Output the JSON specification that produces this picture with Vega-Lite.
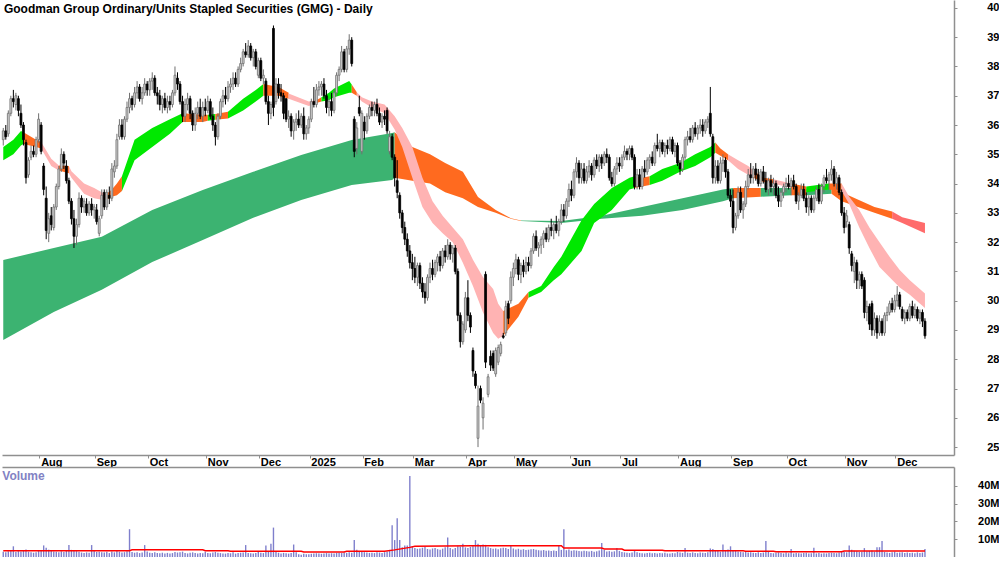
{
"$schema":"https://vega.github.io/schema/vega-lite/v6.json",
"padding":0,
"background":"#ffffff",
"spacing":0,
"config":{"view":{"stroke":null},"font":"Liberation Sans",
"axis":{"grid":false,"title":null,"labelFont":"Liberation Sans","labelFontWeight":"bold","labelFontSize":11,"labelColor":"#000000","domainColor":"#8f8f8f","tickColor":"#8f8f8f","domainWidth":1.5,"tickSize":3,"labelOverlap":false}},
"datasets":{
"px":[
{"d":"2024-07-11","o":35.5,"h":35.9,"l":35.3,"c":35.8,"v":3.0},
{"d":"2024-07-12","o":35.8,"h":36.0,"l":35.5,"c":35.6,"v":2.6},
{"d":"2024-07-15","o":35.7,"h":36.5,"l":35.6,"c":36.4,"v":3.2},
{"d":"2024-07-16","o":36.4,"h":37.0,"l":36.3,"c":36.9,"v":3.5},
{"d":"2024-07-17","o":36.9,"h":37.2,"l":36.6,"c":36.8,"v":6.0},
{"d":"2024-07-18","o":36.7,"h":37.1,"l":36.5,"c":37.0,"v":2.8},
{"d":"2024-07-19","o":36.9,"h":37.0,"l":36.3,"c":36.5,"v":3.3},
{"d":"2024-07-22","o":36.4,"h":36.7,"l":35.9,"c":36.0,"v":3.1},
{"d":"2024-07-23","o":36.0,"h":36.1,"l":35.3,"c":35.5,"v":3.4},
{"d":"2024-07-24","o":35.4,"h":35.5,"l":34.0,"c":34.2,"v":4.2},
{"d":"2024-07-25","o":34.3,"h":34.9,"l":34.2,"c":34.8,"v":3.0},
{"d":"2024-07-26","o":34.9,"h":35.3,"l":34.8,"c":35.1,"v":2.6},
{"d":"2024-07-29","o":35.1,"h":35.3,"l":34.9,"c":35.0,"v":2.4},
{"d":"2024-07-30","o":35.0,"h":35.6,"l":34.9,"c":35.5,"v":2.7},
{"d":"2024-07-31","o":35.5,"h":36.4,"l":35.4,"c":36.2,"v":3.8},
{"d":"2024-08-01","o":36.0,"h":36.1,"l":35.0,"c":35.1,"v":3.5},
{"d":"2024-08-02","o":34.6,"h":34.7,"l":33.6,"c":33.8,"v":6.5},
{"d":"2024-08-05","o":33.5,"h":33.9,"l":32.1,"c":32.4,"v":5.2},
{"d":"2024-08-06","o":32.3,"h":33.0,"l":32.0,"c":32.8,"v":4.0},
{"d":"2024-08-07","o":32.9,"h":33.2,"l":32.4,"c":32.6,"v":3.4},
{"d":"2024-08-08","o":32.5,"h":33.3,"l":32.4,"c":33.2,"v":3.1},
{"d":"2024-08-09","o":33.2,"h":34.0,"l":33.1,"c":33.9,"v":2.9},
{"d":"2024-08-12","o":33.9,"h":34.6,"l":33.8,"c":34.5,"v":2.7},
{"d":"2024-08-13","o":34.5,"h":35.2,"l":34.4,"c":35.0,"v":3.2},
{"d":"2024-08-14","o":35.0,"h":35.1,"l":34.5,"c":34.7,"v":2.8},
{"d":"2024-08-15","o":34.6,"h":34.8,"l":34.0,"c":34.1,"v":3.6},
{"d":"2024-08-16","o":34.1,"h":34.2,"l":33.3,"c":33.4,"v":6.7},
{"d":"2024-08-19","o":33.4,"h":33.5,"l":32.6,"c":32.8,"v":4.0},
{"d":"2024-08-20","o":32.8,"h":33.1,"l":31.8,"c":32.2,"v":3.8},
{"d":"2024-08-21","o":32.2,"h":32.8,"l":31.9,"c":32.6,"v":3.3},
{"d":"2024-08-22","o":32.6,"h":33.7,"l":32.5,"c":33.5,"v":3.0},
{"d":"2024-08-23","o":33.5,"h":33.6,"l":33.0,"c":33.2,"v":2.5},
{"d":"2024-08-26","o":33.2,"h":33.5,"l":33.0,"c":33.4,"v":2.3},
{"d":"2024-08-27","o":33.3,"h":33.5,"l":32.9,"c":33.0,"v":2.6},
{"d":"2024-08-28","o":33.0,"h":33.4,"l":32.9,"c":33.3,"v":2.4},
{"d":"2024-08-29","o":33.3,"h":33.5,"l":32.9,"c":33.1,"v":6.7},
{"d":"2024-08-30","o":33.1,"h":33.3,"l":32.8,"c":33.2,"v":3.5},
{"d":"2024-09-02","o":33.1,"h":33.3,"l":32.6,"c":32.7,"v":2.8},
{"d":"2024-09-03","o":32.3,"h":32.9,"l":32.2,"c":32.8,"v":3.0},
{"d":"2024-09-04","o":32.9,"h":33.8,"l":32.8,"c":33.6,"v":2.7},
{"d":"2024-09-05","o":33.7,"h":33.8,"l":33.1,"c":33.2,"v":2.5},
{"d":"2024-09-06","o":33.2,"h":33.8,"l":33.1,"c":33.7,"v":2.9},
{"d":"2024-09-09","o":33.6,"h":33.9,"l":33.3,"c":33.5,"v":2.2},
{"d":"2024-09-10","o":33.5,"h":34.7,"l":33.4,"c":34.5,"v":3.1},
{"d":"2024-09-11","o":34.4,"h":34.8,"l":34.2,"c":34.6,"v":2.6},
{"d":"2024-09-12","o":34.6,"h":35.7,"l":34.5,"c":35.5,"v":3.4},
{"d":"2024-09-13","o":35.6,"h":36.2,"l":35.5,"c":36.0,"v":3.0},
{"d":"2024-09-16","o":36.0,"h":36.2,"l":35.5,"c":35.6,"v":2.5},
{"d":"2024-09-17","o":35.6,"h":36.3,"l":35.5,"c":36.2,"v":2.7},
{"d":"2024-09-18","o":36.2,"h":36.8,"l":36.1,"c":36.6,"v":3.2},
{"d":"2024-09-19","o":36.6,"h":37.1,"l":36.4,"c":36.9,"v":15.6},
{"d":"2024-09-20","o":36.9,"h":37.0,"l":36.5,"c":36.7,"v":2.8},
{"d":"2024-09-23","o":36.7,"h":37.3,"l":36.6,"c":37.1,"v":2.4},
{"d":"2024-09-24","o":37.1,"h":37.5,"l":36.9,"c":37.3,"v":2.6},
{"d":"2024-09-25","o":37.3,"h":37.4,"l":36.8,"c":36.9,"v":2.2},
{"d":"2024-09-26","o":36.9,"h":37.3,"l":36.7,"c":37.1,"v":2.5},
{"d":"2024-09-27","o":37.1,"h":37.6,"l":37.0,"c":37.4,"v":6.7},
{"d":"2024-09-30","o":37.4,"h":37.5,"l":37.0,"c":37.2,"v":3.1},
{"d":"2024-10-01","o":37.2,"h":37.6,"l":37.0,"c":37.5,"v":2.4},
{"d":"2024-10-02","o":37.5,"h":37.8,"l":37.2,"c":37.6,"v":2.2},
{"d":"2024-10-03","o":37.6,"h":37.7,"l":37.0,"c":37.1,"v":2.6},
{"d":"2024-10-04","o":37.1,"h":37.3,"l":36.7,"c":37.0,"v":2.3},
{"d":"2024-10-07","o":37.0,"h":37.2,"l":36.5,"c":36.7,"v":2.1},
{"d":"2024-10-08","o":36.7,"h":37.0,"l":36.4,"c":36.9,"v":2.4},
{"d":"2024-10-09","o":36.9,"h":37.1,"l":36.5,"c":36.6,"v":2.0},
{"d":"2024-10-10","o":36.6,"h":37.0,"l":36.4,"c":36.8,"v":2.3},
{"d":"2024-10-11","o":36.8,"h":37.0,"l":36.5,"c":36.7,"v":1.9},
{"d":"2024-10-14","o":36.7,"h":37.2,"l":36.6,"c":37.1,"v":2.2},
{"d":"2024-10-15","o":37.1,"h":38.0,"l":37.0,"c":37.7,"v":2.8},
{"d":"2024-10-16","o":37.6,"h":37.8,"l":37.2,"c":37.4,"v":2.5},
{"d":"2024-10-17","o":37.4,"h":37.5,"l":36.7,"c":36.8,"v":2.7},
{"d":"2024-10-18","o":36.8,"h":37.0,"l":36.1,"c":36.3,"v":3.0},
{"d":"2024-10-21","o":36.3,"h":36.9,"l":36.1,"c":36.7,"v":2.3},
{"d":"2024-10-22","o":36.7,"h":37.1,"l":36.5,"c":36.9,"v":2.0},
{"d":"2024-10-23","o":36.9,"h":37.0,"l":36.2,"c":36.4,"v":2.4},
{"d":"2024-10-24","o":36.4,"h":36.5,"l":35.8,"c":36.0,"v":2.6},
{"d":"2024-10-25","o":36.0,"h":36.6,"l":35.8,"c":36.4,"v":2.2},
{"d":"2024-10-28","o":36.4,"h":36.8,"l":36.2,"c":36.6,"v":2.0},
{"d":"2024-10-29","o":36.6,"h":36.9,"l":36.2,"c":36.3,"v":2.3},
{"d":"2024-10-30","o":36.3,"h":36.8,"l":36.1,"c":36.6,"v":2.1},
{"d":"2024-10-31","o":36.6,"h":36.9,"l":36.3,"c":36.5,"v":2.9},
{"d":"2024-11-01","o":36.5,"h":37.0,"l":36.4,"c":36.8,"v":2.3},
{"d":"2024-11-04","o":36.8,"h":36.9,"l":36.2,"c":36.3,"v":2.1},
{"d":"2024-11-05","o":36.3,"h":36.6,"l":35.8,"c":36.0,"v":2.5},
{"d":"2024-11-06","o":36.0,"h":36.1,"l":35.3,"c":35.6,"v":2.8},
{"d":"2024-11-07","o":35.6,"h":36.4,"l":35.5,"c":36.3,"v":2.4},
{"d":"2024-11-08","o":36.3,"h":36.9,"l":36.2,"c":36.8,"v":2.2},
{"d":"2024-11-11","o":36.8,"h":37.2,"l":36.6,"c":37.0,"v":2.0},
{"d":"2024-11-12","o":37.0,"h":37.3,"l":36.7,"c":36.9,"v":1.9},
{"d":"2024-11-13","o":36.9,"h":37.5,"l":36.8,"c":37.3,"v":2.3},
{"d":"2024-11-14","o":37.3,"h":37.6,"l":37.1,"c":37.4,"v":2.1},
{"d":"2024-11-15","o":37.4,"h":37.8,"l":37.2,"c":37.6,"v":2.6},
{"d":"2024-11-18","o":37.6,"h":37.8,"l":37.3,"c":37.4,"v":1.9},
{"d":"2024-11-19","o":37.4,"h":38.0,"l":37.3,"c":37.9,"v":2.2},
{"d":"2024-11-20","o":37.9,"h":38.3,"l":37.8,"c":38.1,"v":2.4},
{"d":"2024-11-21","o":38.1,"h":38.6,"l":38.0,"c":38.5,"v":2.5},
{"d":"2024-11-22","o":38.5,"h":38.8,"l":38.3,"c":38.4,"v":6.7},
{"d":"2024-11-25","o":38.4,"h":38.9,"l":38.3,"c":38.7,"v":2.3},
{"d":"2024-11-26","o":38.7,"h":38.8,"l":38.2,"c":38.3,"v":2.1},
{"d":"2024-11-27","o":38.3,"h":38.6,"l":38.0,"c":38.5,"v":2.0},
{"d":"2024-11-28","o":38.5,"h":38.6,"l":37.9,"c":38.0,"v":2.2},
{"d":"2024-11-29","o":37.7,"h":38.3,"l":37.6,"c":38.2,"v":3.0},
{"d":"2024-12-02","o":38.2,"h":38.3,"l":37.5,"c":37.6,"v":2.4},
{"d":"2024-12-03","o":37.6,"h":37.9,"l":37.4,"c":37.7,"v":2.2},
{"d":"2024-12-04","o":37.5,"h":37.6,"l":36.7,"c":36.8,"v":6.5},
{"d":"2024-12-05","o":36.8,"h":37.0,"l":36.0,"c":36.4,"v":2.9},
{"d":"2024-12-06","o":36.4,"h":36.8,"l":36.2,"c":36.7,"v":7.5},
{"d":"2024-12-09","o":39.3,"h":39.4,"l":36.3,"c":36.6,"v":16.5},
{"d":"2024-12-10","o":36.8,"h":37.6,"l":36.7,"c":37.4,"v":3.0},
{"d":"2024-12-11","o":37.4,"h":37.6,"l":36.9,"c":37.1,"v":2.4},
{"d":"2024-12-12","o":37.1,"h":37.4,"l":36.8,"c":37.0,"v":2.0},
{"d":"2024-12-13","o":37.0,"h":37.1,"l":36.2,"c":36.4,"v":2.3},
{"d":"2024-12-16","o":36.9,"h":36.9,"l":36.1,"c":36.2,"v":2.1},
{"d":"2024-12-17","o":36.2,"h":36.5,"l":35.9,"c":36.3,"v":1.9},
{"d":"2024-12-18","o":36.3,"h":36.4,"l":35.6,"c":35.8,"v":2.2},
{"d":"2024-12-19","o":35.8,"h":36.2,"l":35.5,"c":36.1,"v":7.0},
{"d":"2024-12-20","o":36.1,"h":36.4,"l":35.8,"c":36.2,"v":2.6},
{"d":"2024-12-23","o":36.2,"h":36.5,"l":35.9,"c":36.0,"v":1.6},
{"d":"2024-12-24","o":36.0,"h":36.4,"l":35.9,"c":36.3,"v":1.2},
{"d":"2024-12-27","o":36.3,"h":36.6,"l":35.5,"c":35.7,"v":1.8},
{"d":"2024-12-30","o":35.7,"h":36.0,"l":35.5,"c":35.9,"v":1.6},
{"d":"2024-12-31","o":35.9,"h":36.3,"l":35.7,"c":36.2,"v":1.5},
{"d":"2025-01-02","o":36.2,"h":36.9,"l":36.1,"c":36.8,"v":1.8},
{"d":"2025-01-03","o":36.8,"h":37.3,"l":36.6,"c":36.7,"v":1.9},
{"d":"2025-01-06","o":36.7,"h":37.4,"l":36.6,"c":37.2,"v":2.1},
{"d":"2025-01-07","o":37.2,"h":37.5,"l":37.0,"c":37.3,"v":2.0},
{"d":"2025-01-08","o":37.3,"h":37.5,"l":37.0,"c":37.4,"v":1.8},
{"d":"2025-01-09","o":37.4,"h":37.6,"l":36.9,"c":37.0,"v":1.9},
{"d":"2025-01-10","o":37.0,"h":37.2,"l":36.4,"c":36.6,"v":2.2},
{"d":"2025-01-13","o":36.6,"h":36.9,"l":36.3,"c":36.8,"v":2.0},
{"d":"2025-01-14","o":36.8,"h":37.1,"l":36.3,"c":36.5,"v":2.1},
{"d":"2025-01-15","o":36.5,"h":37.2,"l":36.4,"c":37.1,"v":1.9},
{"d":"2025-01-16","o":37.1,"h":37.8,"l":37.0,"c":37.7,"v":2.3},
{"d":"2025-01-17","o":37.7,"h":38.0,"l":37.5,"c":37.9,"v":2.4},
{"d":"2025-01-20","o":37.9,"h":38.7,"l":37.8,"c":38.5,"v":2.2},
{"d":"2025-01-21","o":38.5,"h":38.6,"l":37.8,"c":37.9,"v":2.5},
{"d":"2025-01-22","o":37.9,"h":38.7,"l":37.8,"c":38.6,"v":2.3},
{"d":"2025-01-23","o":38.6,"h":39.1,"l":38.4,"c":38.9,"v":2.6},
{"d":"2025-01-24","o":38.9,"h":39.0,"l":38.0,"c":38.1,"v":2.4},
{"d":"2025-01-28","o":36.2,"h":36.3,"l":34.9,"c":35.1,"v":9.5},
{"d":"2025-01-29","o":35.2,"h":36.1,"l":35.0,"c":35.9,"v":4.0},
{"d":"2025-01-30","o":36.6,"h":37.0,"l":36.3,"c":36.4,"v":3.0},
{"d":"2025-01-31","o":35.1,"h":36.5,"l":35.0,"c":36.4,"v":2.8},
{"d":"2025-02-03","o":36.1,"h":36.3,"l":35.5,"c":35.8,"v":2.7},
{"d":"2025-02-04","o":35.8,"h":36.4,"l":35.7,"c":36.3,"v":2.5},
{"d":"2025-02-05","o":36.3,"h":36.7,"l":36.2,"c":36.6,"v":2.3},
{"d":"2025-02-06","o":36.6,"h":36.8,"l":36.3,"c":36.5,"v":2.4},
{"d":"2025-02-07","o":36.5,"h":36.8,"l":36.3,"c":36.7,"v":2.2},
{"d":"2025-02-10","o":36.7,"h":36.9,"l":36.3,"c":36.4,"v":2.6},
{"d":"2025-02-11","o":36.4,"h":36.6,"l":36.0,"c":36.1,"v":2.5},
{"d":"2025-02-12","o":36.1,"h":36.4,"l":35.9,"c":36.3,"v":2.3},
{"d":"2025-02-13","o":36.3,"h":36.5,"l":36.0,"c":36.2,"v":2.7},
{"d":"2025-02-14","o":36.5,"h":36.6,"l":35.7,"c":35.8,"v":3.1},
{"d":"2025-02-17","o":35.1,"h":35.8,"l":35.0,"c":35.6,"v":4.0},
{"d":"2025-02-18","o":35.6,"h":35.7,"l":34.8,"c":34.9,"v":17.8},
{"d":"2025-02-19","o":34.9,"h":35.0,"l":33.9,"c":34.2,"v":9.5},
{"d":"2025-02-20","o":34.1,"h":34.8,"l":33.5,"c":33.7,"v":21.7},
{"d":"2025-02-21","o":33.6,"h":33.7,"l":32.8,"c":33.0,"v":9.5},
{"d":"2025-02-24","o":33.0,"h":33.1,"l":32.3,"c":32.5,"v":5.5},
{"d":"2025-02-25","o":32.5,"h":32.7,"l":31.9,"c":32.1,"v":6.5},
{"d":"2025-02-26","o":32.1,"h":32.3,"l":31.5,"c":31.7,"v":6.5},
{"d":"2025-02-27","o":31.7,"h":31.9,"l":31.1,"c":31.3,"v":45.5},
{"d":"2025-02-28","o":31.3,"h":31.6,"l":30.7,"c":31.1,"v":6.0},
{"d":"2025-03-03","o":31.1,"h":31.5,"l":30.6,"c":30.8,"v":5.0},
{"d":"2025-03-04","o":30.8,"h":31.3,"l":30.5,"c":31.2,"v":4.6},
{"d":"2025-03-05","o":31.2,"h":31.3,"l":30.4,"c":30.6,"v":4.8},
{"d":"2025-03-06","o":30.6,"h":30.8,"l":30.1,"c":30.3,"v":5.2},
{"d":"2025-03-07","o":30.3,"h":30.6,"l":29.9,"c":30.1,"v":5.6},
{"d":"2025-03-10","o":30.1,"h":30.9,"l":30.0,"c":30.8,"v":4.5},
{"d":"2025-03-11","o":30.8,"h":31.3,"l":30.6,"c":31.1,"v":4.2},
{"d":"2025-03-12","o":31.1,"h":31.4,"l":30.7,"c":30.9,"v":4.8},
{"d":"2025-03-13","o":30.9,"h":31.4,"l":30.8,"c":31.3,"v":5.0},
{"d":"2025-03-14","o":31.3,"h":31.6,"l":31.0,"c":31.5,"v":4.4},
{"d":"2025-03-17","o":31.5,"h":31.7,"l":31.0,"c":31.2,"v":4.1},
{"d":"2025-03-18","o":31.2,"h":31.8,"l":31.1,"c":31.7,"v":4.7},
{"d":"2025-03-19","o":31.7,"h":31.9,"l":31.3,"c":31.5,"v":5.5},
{"d":"2025-03-20","o":31.5,"h":32.1,"l":31.4,"c":31.9,"v":11.0},
{"d":"2025-03-21","o":31.9,"h":32.0,"l":31.4,"c":31.6,"v":5.0},
{"d":"2025-03-24","o":31.6,"h":31.9,"l":31.3,"c":31.8,"v":4.3},
{"d":"2025-03-25","o":31.8,"h":31.9,"l":30.9,"c":31.0,"v":5.1},
{"d":"2025-03-26","o":31.0,"h":31.1,"l":29.3,"c":29.5,"v":6.0},
{"d":"2025-03-27","o":29.5,"h":29.6,"l":28.4,"c":28.6,"v":5.8},
{"d":"2025-03-28","o":28.6,"h":29.3,"l":28.5,"c":29.2,"v":7.5},
{"d":"2025-03-31","o":29.0,"h":30.3,"l":28.9,"c":30.1,"v":5.4},
{"d":"2025-04-01","o":30.1,"h":30.7,"l":29.3,"c":29.5,"v":5.0},
{"d":"2025-04-02","o":29.5,"h":29.6,"l":28.9,"c":29.1,"v":5.6},
{"d":"2025-04-03","o":28.3,"h":28.4,"l":27.4,"c":27.6,"v":6.5},
{"d":"2025-04-04","o":27.5,"h":27.6,"l":27.0,"c":27.1,"v":9.5},
{"d":"2025-04-07","o":25.3,"h":27.1,"l":25.0,"c":26.4,"v":7.5},
{"d":"2025-04-08","o":27.0,"h":27.1,"l":26.5,"c":26.6,"v":6.3},
{"d":"2025-04-09","o":26.0,"h":26.7,"l":25.6,"c":26.5,"v":7.0},
{"d":"2025-04-10","o":30.9,"h":31.0,"l":27.7,"c":27.9,"v":6.8},
{"d":"2025-04-11","o":26.8,"h":27.5,"l":26.7,"c":27.4,"v":5.5},
{"d":"2025-04-14","o":28.1,"h":28.3,"l":27.6,"c":27.8,"v":5.0},
{"d":"2025-04-15","o":28.2,"h":28.3,"l":27.6,"c":27.7,"v":4.6},
{"d":"2025-04-16","o":27.5,"h":28.4,"l":27.4,"c":28.3,"v":4.8},
{"d":"2025-04-17","o":27.9,"h":28.5,"l":27.8,"c":28.4,"v":4.4},
{"d":"2025-04-22","o":28.2,"h":28.6,"l":28.1,"c":28.5,"v":4.9},
{"d":"2025-04-23","o":28.8,"h":28.9,"l":28.7,"c":28.75,"v":5.2},
{"d":"2025-04-24","o":28.9,"h":30.0,"l":28.8,"c":29.8,"v":5.0},
{"d":"2025-04-28","o":29.9,"h":30.0,"l":29.2,"c":29.4,"v":4.5},
{"d":"2025-04-29","o":30.0,"h":31.0,"l":29.9,"c":30.8,"v":6.5},
{"d":"2025-04-30","o":30.8,"h":31.3,"l":30.5,"c":31.1,"v":4.8},
{"d":"2025-05-01","o":31.1,"h":31.6,"l":30.9,"c":31.4,"v":4.2},
{"d":"2025-05-02","o":31.4,"h":31.5,"l":30.7,"c":30.9,"v":4.6},
{"d":"2025-05-05","o":30.9,"h":31.3,"l":30.6,"c":31.2,"v":4.0},
{"d":"2025-05-06","o":31.2,"h":31.4,"l":30.8,"c":31.0,"v":4.4},
{"d":"2025-05-07","o":31.0,"h":31.5,"l":30.9,"c":31.3,"v":3.9},
{"d":"2025-05-08","o":31.3,"h":31.5,"l":31.0,"c":31.2,"v":4.1},
{"d":"2025-05-09","o":31.2,"h":31.8,"l":31.1,"c":31.7,"v":4.3},
{"d":"2025-05-12","o":31.7,"h":32.3,"l":31.6,"c":32.2,"v":4.5},
{"d":"2025-05-13","o":32.2,"h":32.4,"l":31.7,"c":31.8,"v":4.0},
{"d":"2025-05-14","o":31.8,"h":32.0,"l":31.5,"c":31.9,"v":3.8},
{"d":"2025-05-15","o":31.9,"h":32.2,"l":31.6,"c":32.1,"v":3.6},
{"d":"2025-05-16","o":32.1,"h":32.4,"l":31.8,"c":32.3,"v":3.9},
{"d":"2025-05-19","o":32.3,"h":32.5,"l":32.0,"c":32.1,"v":3.5},
{"d":"2025-05-20","o":32.1,"h":32.6,"l":32.0,"c":32.5,"v":3.7},
{"d":"2025-05-21","o":32.5,"h":32.8,"l":32.2,"c":32.4,"v":3.4},
{"d":"2025-05-22","o":32.4,"h":32.7,"l":32.1,"c":32.6,"v":3.6},
{"d":"2025-05-23","o":32.6,"h":32.9,"l":32.3,"c":32.4,"v":3.3},
{"d":"2025-05-26","o":32.4,"h":32.8,"l":32.2,"c":32.7,"v":6.7},
{"d":"2025-05-27","o":32.7,"h":33.3,"l":32.6,"c":33.1,"v":4.0},
{"d":"2025-05-28","o":33.1,"h":33.3,"l":32.7,"c":32.9,"v":15.6},
{"d":"2025-05-29","o":32.9,"h":33.5,"l":32.8,"c":33.4,"v":3.8},
{"d":"2025-05-30","o":33.4,"h":34.0,"l":33.2,"c":33.8,"v":4.2},
{"d":"2025-06-02","o":33.8,"h":34.1,"l":33.4,"c":33.6,"v":3.5},
{"d":"2025-06-03","o":33.6,"h":34.5,"l":33.5,"c":34.4,"v":3.8},
{"d":"2025-06-04","o":34.4,"h":34.9,"l":34.2,"c":34.7,"v":3.6},
{"d":"2025-06-05","o":34.7,"h":34.8,"l":34.0,"c":34.2,"v":3.4},
{"d":"2025-06-06","o":34.2,"h":34.7,"l":34.0,"c":34.5,"v":3.2},
{"d":"2025-06-10","o":34.5,"h":34.7,"l":34.0,"c":34.1,"v":3.5},
{"d":"2025-06-11","o":34.1,"h":34.6,"l":34.0,"c":34.4,"v":3.3},
{"d":"2025-06-12","o":34.4,"h":34.8,"l":34.2,"c":34.6,"v":3.1},
{"d":"2025-06-13","o":34.6,"h":34.7,"l":34.1,"c":34.3,"v":3.4},
{"d":"2025-06-16","o":34.3,"h":34.9,"l":34.2,"c":34.8,"v":3.0},
{"d":"2025-06-17","o":34.8,"h":35.0,"l":34.5,"c":34.6,"v":3.2},
{"d":"2025-06-18","o":34.6,"h":35.0,"l":34.4,"c":34.9,"v":3.6},
{"d":"2025-06-19","o":34.9,"h":35.0,"l":34.5,"c":34.7,"v":7.8},
{"d":"2025-06-20","o":34.7,"h":35.1,"l":34.6,"c":35.0,"v":3.9},
{"d":"2025-06-23","o":35.0,"h":35.2,"l":34.7,"c":34.9,"v":3.1},
{"d":"2025-06-24","o":34.9,"h":35.0,"l":34.1,"c":34.2,"v":3.3},
{"d":"2025-06-25","o":34.2,"h":34.4,"l":33.9,"c":34.0,"v":3.0},
{"d":"2025-06-26","o":34.0,"h":34.6,"l":33.9,"c":34.5,"v":3.2},
{"d":"2025-06-27","o":34.5,"h":34.9,"l":34.3,"c":34.7,"v":5.0},
{"d":"2025-06-30","o":34.7,"h":34.9,"l":34.4,"c":34.6,"v":3.4},
{"d":"2025-07-01","o":34.6,"h":35.0,"l":34.5,"c":34.9,"v":2.8},
{"d":"2025-07-02","o":34.9,"h":35.3,"l":34.8,"c":35.1,"v":2.6},
{"d":"2025-07-03","o":35.1,"h":35.2,"l":34.8,"c":35.0,"v":2.4},
{"d":"2025-07-04","o":35.0,"h":35.3,"l":34.8,"c":35.2,"v":2.2},
{"d":"2025-07-07","o":35.2,"h":35.3,"l":34.8,"c":34.9,"v":2.5},
{"d":"2025-07-08","o":34.9,"h":35.0,"l":33.8,"c":33.9,"v":3.4},
{"d":"2025-07-09","o":33.9,"h":34.5,"l":33.8,"c":34.3,"v":2.7},
{"d":"2025-07-10","o":34.3,"h":34.5,"l":33.8,"c":33.9,"v":2.3},
{"d":"2025-07-11","o":33.9,"h":34.6,"l":33.8,"c":34.5,"v":2.1},
{"d":"2025-07-14","o":34.5,"h":34.8,"l":34.2,"c":34.4,"v":2.0},
{"d":"2025-07-15","o":34.4,"h":34.9,"l":34.3,"c":34.8,"v":2.2},
{"d":"2025-07-16","o":34.8,"h":35.0,"l":34.5,"c":34.9,"v":2.4},
{"d":"2025-07-17","o":34.9,"h":35.1,"l":34.6,"c":34.7,"v":2.1},
{"d":"2025-07-18","o":34.7,"h":35.4,"l":34.6,"c":35.3,"v":2.3},
{"d":"2025-07-21","o":35.3,"h":35.7,"l":35.1,"c":35.2,"v":2.0},
{"d":"2025-07-22","o":35.2,"h":35.5,"l":34.9,"c":35.4,"v":2.2},
{"d":"2025-07-23","o":35.4,"h":35.5,"l":35.0,"c":35.1,"v":2.1},
{"d":"2025-07-24","o":35.1,"h":35.4,"l":34.9,"c":35.3,"v":2.4},
{"d":"2025-07-25","o":35.3,"h":35.5,"l":35.0,"c":35.2,"v":2.0},
{"d":"2025-07-28","o":35.2,"h":35.6,"l":35.1,"c":35.5,"v":1.9},
{"d":"2025-07-29","o":35.5,"h":35.6,"l":35.0,"c":35.1,"v":2.2},
{"d":"2025-07-30","o":35.1,"h":35.4,"l":34.9,"c":35.3,"v":2.1},
{"d":"2025-07-31","o":35.3,"h":35.4,"l":34.6,"c":34.7,"v":2.8},
{"d":"2025-08-01","o":34.7,"h":34.8,"l":34.3,"c":34.5,"v":2.5},
{"d":"2025-08-04","o":34.5,"h":35.0,"l":34.4,"c":34.9,"v":2.3},
{"d":"2025-08-05","o":34.9,"h":35.6,"l":34.8,"c":35.5,"v":5.0},
{"d":"2025-08-06","o":35.5,"h":35.8,"l":35.3,"c":35.6,"v":2.4},
{"d":"2025-08-07","o":35.6,"h":35.9,"l":35.4,"c":35.5,"v":2.2},
{"d":"2025-08-08","o":35.5,"h":36.0,"l":35.4,"c":35.9,"v":2.6},
{"d":"2025-08-11","o":35.9,"h":36.1,"l":35.6,"c":35.7,"v":2.3},
{"d":"2025-08-12","o":35.7,"h":36.0,"l":35.5,"c":35.9,"v":2.1},
{"d":"2025-08-13","o":35.9,"h":36.2,"l":35.7,"c":36.0,"v":2.5},
{"d":"2025-08-14","o":36.0,"h":36.2,"l":35.6,"c":35.8,"v":2.4},
{"d":"2025-08-15","o":35.8,"h":36.2,"l":35.7,"c":36.1,"v":2.2},
{"d":"2025-08-18","o":36.1,"h":36.3,"l":35.9,"c":36.2,"v":2.6},
{"d":"2025-08-19","o":36.4,"h":37.3,"l":35.6,"c":35.7,"v":4.8},
{"d":"2025-08-20","o":35.6,"h":35.7,"l":34.0,"c":34.2,"v":4.5},
{"d":"2025-08-21","o":34.2,"h":34.8,"l":34.0,"c":34.6,"v":3.8},
{"d":"2025-08-22","o":34.6,"h":34.8,"l":34.0,"c":34.1,"v":3.5},
{"d":"2025-08-25","o":34.1,"h":34.9,"l":34.0,"c":34.7,"v":3.0},
{"d":"2025-08-26","o":34.7,"h":35.0,"l":34.4,"c":34.8,"v":7.0},
{"d":"2025-08-27","o":34.8,"h":34.9,"l":34.2,"c":34.4,"v":3.6},
{"d":"2025-08-28","o":34.4,"h":34.5,"l":33.5,"c":33.6,"v":4.2},
{"d":"2025-08-29","o":33.6,"h":33.8,"l":33.2,"c":33.4,"v":6.0},
{"d":"2025-09-01","o":33.4,"h":33.8,"l":32.3,"c":32.5,"v":3.8},
{"d":"2025-09-02","o":32.5,"h":33.0,"l":32.4,"c":32.9,"v":3.4},
{"d":"2025-09-03","o":32.9,"h":33.9,"l":32.8,"c":33.7,"v":3.1},
{"d":"2025-09-04","o":33.7,"h":33.9,"l":33.0,"c":33.1,"v":2.9},
{"d":"2025-09-05","o":33.1,"h":33.4,"l":32.8,"c":33.3,"v":2.6},
{"d":"2025-09-08","o":33.3,"h":34.1,"l":33.2,"c":33.9,"v":2.8},
{"d":"2025-09-09","o":33.9,"h":34.5,"l":33.8,"c":34.3,"v":2.5},
{"d":"2025-09-10","o":34.3,"h":34.7,"l":34.0,"c":34.2,"v":2.7},
{"d":"2025-09-11","o":34.2,"h":34.6,"l":34.0,"c":34.5,"v":2.4},
{"d":"2025-09-12","o":34.5,"h":34.7,"l":34.1,"c":34.3,"v":2.3},
{"d":"2025-09-15","o":34.3,"h":34.5,"l":33.9,"c":34.0,"v":2.6},
{"d":"2025-09-16","o":34.0,"h":34.5,"l":33.9,"c":34.4,"v":2.2},
{"d":"2025-09-17","o":34.4,"h":34.6,"l":34.0,"c":34.1,"v":2.5},
{"d":"2025-09-18","o":34.1,"h":34.4,"l":33.7,"c":33.8,"v":9.0},
{"d":"2025-09-19","o":33.8,"h":34.2,"l":33.6,"c":34.1,"v":2.8},
{"d":"2025-09-22","o":34.1,"h":34.3,"l":33.7,"c":33.9,"v":2.3},
{"d":"2025-09-23","o":33.9,"h":34.2,"l":33.6,"c":34.0,"v":2.1},
{"d":"2025-09-24","o":34.0,"h":34.1,"l":33.5,"c":33.6,"v":2.4},
{"d":"2025-09-25","o":33.6,"h":33.9,"l":33.2,"c":33.4,"v":2.6},
{"d":"2025-09-26","o":33.4,"h":33.8,"l":33.2,"c":33.7,"v":2.2},
{"d":"2025-09-29","o":33.7,"h":34.0,"l":33.5,"c":33.9,"v":2.0},
{"d":"2025-09-30","o":33.9,"h":34.2,"l":33.7,"c":34.0,"v":2.5},
{"d":"2025-10-01","o":34.0,"h":34.3,"l":33.8,"c":33.9,"v":2.1},
{"d":"2025-10-02","o":33.9,"h":34.2,"l":33.6,"c":34.1,"v":4.5},
{"d":"2025-10-03","o":34.1,"h":34.3,"l":33.8,"c":33.9,"v":2.0},
{"d":"2025-10-06","o":33.9,"h":34.0,"l":33.3,"c":33.4,"v":2.3},
{"d":"2025-10-07","o":33.4,"h":33.7,"l":33.1,"c":33.6,"v":2.1},
{"d":"2025-10-08","o":33.6,"h":34.0,"l":33.5,"c":33.8,"v":1.9},
{"d":"2025-10-09","o":33.8,"h":34.0,"l":33.4,"c":33.5,"v":2.2},
{"d":"2025-10-10","o":33.5,"h":33.7,"l":33.0,"c":33.2,"v":2.4},
{"d":"2025-10-13","o":33.2,"h":33.6,"l":32.9,"c":33.5,"v":2.0},
{"d":"2025-10-14","o":33.5,"h":33.6,"l":33.0,"c":33.1,"v":2.1},
{"d":"2025-10-15","o":33.1,"h":33.6,"l":33.0,"c":33.5,"v":5.2},
{"d":"2025-10-16","o":33.5,"h":33.9,"l":33.4,"c":33.8,"v":2.0},
{"d":"2025-10-17","o":33.8,"h":34.0,"l":33.3,"c":33.4,"v":2.3},
{"d":"2025-10-20","o":33.4,"h":34.0,"l":33.3,"c":33.9,"v":1.9},
{"d":"2025-10-21","o":33.9,"h":34.3,"l":33.7,"c":34.2,"v":2.1},
{"d":"2025-10-22","o":34.2,"h":34.5,"l":34.0,"c":34.1,"v":2.0},
{"d":"2025-10-23","o":34.1,"h":34.4,"l":33.8,"c":34.3,"v":2.2},
{"d":"2025-10-24","o":34.3,"h":34.8,"l":34.1,"c":34.5,"v":2.4},
{"d":"2025-10-27","o":34.5,"h":34.6,"l":33.9,"c":34.0,"v":2.3},
{"d":"2025-10-28","o":34.0,"h":34.4,"l":33.8,"c":34.2,"v":2.1},
{"d":"2025-10-29","o":34.2,"h":34.3,"l":33.6,"c":33.7,"v":2.5},
{"d":"2025-10-30","o":33.7,"h":33.8,"l":32.9,"c":33.0,"v":2.8},
{"d":"2025-10-31","o":33.0,"h":33.2,"l":32.3,"c":32.5,"v":3.0},
{"d":"2025-11-03","o":32.7,"h":33.1,"l":32.5,"c":32.9,"v":2.6},
{"d":"2025-11-04","o":32.6,"h":32.7,"l":31.6,"c":31.8,"v":6.5},
{"d":"2025-11-05","o":31.6,"h":31.7,"l":31.0,"c":31.2,"v":4.0},
{"d":"2025-11-06","o":31.0,"h":31.5,"l":30.6,"c":31.3,"v":3.5},
{"d":"2025-11-07","o":31.3,"h":31.4,"l":30.4,"c":30.7,"v":3.2},
{"d":"2025-11-10","o":30.7,"h":31.0,"l":30.4,"c":30.9,"v":2.8},
{"d":"2025-11-11","o":30.9,"h":31.0,"l":30.4,"c":30.5,"v":3.0},
{"d":"2025-11-12","o":30.7,"h":30.8,"l":29.4,"c":29.6,"v":5.0},
{"d":"2025-11-13","o":29.6,"h":30.0,"l":29.3,"c":29.8,"v":3.2},
{"d":"2025-11-14","o":29.8,"h":29.9,"l":29.0,"c":29.2,"v":3.4},
{"d":"2025-11-17","o":29.9,"h":30.0,"l":28.8,"c":29.0,"v":3.6},
{"d":"2025-11-18","o":29.0,"h":29.6,"l":28.8,"c":29.4,"v":3.0},
{"d":"2025-11-19","o":29.4,"h":29.5,"l":28.7,"c":28.9,"v":5.5},
{"d":"2025-11-20","o":28.9,"h":29.5,"l":28.8,"c":29.3,"v":5.5},
{"d":"2025-11-21","o":29.3,"h":29.4,"l":28.8,"c":28.9,"v":9.0},
{"d":"2025-11-24","o":28.9,"h":29.6,"l":28.8,"c":29.5,"v":2.8},
{"d":"2025-11-25","o":29.5,"h":29.8,"l":29.3,"c":29.6,"v":2.5},
{"d":"2025-11-26","o":29.6,"h":30.0,"l":29.5,"c":29.9,"v":2.3},
{"d":"2025-11-27","o":29.9,"h":30.1,"l":29.6,"c":29.7,"v":2.6},
{"d":"2025-11-28","o":29.7,"h":30.2,"l":29.6,"c":30.0,"v":3.0},
{"d":"2025-12-01","o":30.0,"h":30.5,"l":29.8,"c":30.2,"v":2.4},
{"d":"2025-12-02","o":30.2,"h":30.3,"l":29.7,"c":29.8,"v":2.5},
{"d":"2025-12-03","o":29.7,"h":29.8,"l":29.3,"c":29.4,"v":2.7},
{"d":"2025-12-04","o":29.4,"h":29.7,"l":29.2,"c":29.6,"v":2.3},
{"d":"2025-12-05","o":29.6,"h":29.7,"l":29.3,"c":29.4,"v":2.5},
{"d":"2025-12-08","o":29.4,"h":29.9,"l":29.3,"c":29.8,"v":2.2},
{"d":"2025-12-09","o":29.8,"h":30.0,"l":29.4,"c":29.5,"v":2.4},
{"d":"2025-12-10","o":29.5,"h":29.9,"l":29.4,"c":29.7,"v":2.1},
{"d":"2025-12-11","o":29.7,"h":29.8,"l":29.3,"c":29.4,"v":2.6},
{"d":"2025-12-12","o":29.4,"h":29.7,"l":29.2,"c":29.6,"v":2.3},
{"d":"2025-12-15","o":29.6,"h":29.7,"l":29.1,"c":29.3,"v":2.5},
{"d":"2025-12-16","o":29.3,"h":29.4,"l":28.7,"c":28.8,"v":4.5}
],
"bands":[
{"d":"2024-07-11","a":34.8,"b":35.25,"k":"g","s":1},{"d":"2024-07-17","a":35.0,"b":35.5,"k":"g","s":1},{"d":"2024-07-22","a":35.3,"b":35.8,"k":"g","s":1},{"d":"2024-07-23","a":35.35,"b":35.75,"k":"g","s":1},
{"d":"2024-07-23","a":35.35,"b":35.75,"k":"o","s":2},{"d":"2024-07-30","a":35.25,"b":35.5,"k":"o","s":2},{"d":"2024-08-01","a":35.2,"b":35.42,"k":"o","s":2},
{"d":"2024-08-01","a":35.2,"b":35.42,"k":"p","s":3},{"d":"2024-08-07","a":34.6,"b":34.85,"k":"p","s":3},{"d":"2024-08-12","a":34.45,"b":34.62,"k":"p","s":3},
{"d":"2024-08-12","a":34.45,"b":34.62,"k":"o","s":4},{"d":"2024-08-16","a":34.35,"b":34.6,"k":"o","s":4},
{"d":"2024-08-16","a":34.35,"b":34.6,"k":"p","s":5},{"d":"2024-08-19","a":34.2,"b":34.42,"k":"p","s":5},{"d":"2024-08-26","a":33.65,"b":34.0,"k":"p","s":5},{"d":"2024-08-30","a":33.5,"b":33.85,"k":"p","s":5},{"d":"2024-09-04","a":33.45,"b":33.7,"k":"p","s":5},{"d":"2024-09-06","a":33.45,"b":33.65,"k":"p","s":5},
{"d":"2024-09-06","a":33.45,"b":33.65,"k":"o","s":6},{"d":"2024-09-10","a":33.55,"b":33.8,"k":"o","s":6},{"d":"2024-09-12","a":33.6,"b":34.0,"k":"o","s":6},{"d":"2024-09-16","a":33.75,"b":34.25,"k":"o","s":6},
{"d":"2024-09-16","a":33.75,"b":34.25,"k":"g","s":7},{"d":"2024-09-23","a":34.8,"b":35.5,"k":"g","s":7},{"d":"2024-10-02","a":35.25,"b":35.9,"k":"g","s":7},{"d":"2024-10-11","a":35.7,"b":36.2,"k":"g","s":7},{"d":"2024-10-18","a":36.1,"b":36.4,"k":"g","s":7},
{"d":"2024-10-18","a":36.1,"b":36.4,"k":"o","s":8},{"d":"2024-10-30","a":36.1,"b":36.35,"k":"o","s":8},{"d":"2024-11-01","a":36.15,"b":36.35,"k":"o","s":8},
{"d":"2024-11-01","a":36.15,"b":36.35,"k":"g","s":9},{"d":"2024-11-06","a":36.18,"b":36.38,"k":"g","s":9},
{"d":"2024-11-06","a":36.18,"b":36.38,"k":"o","s":10},{"d":"2024-11-13","a":36.22,"b":36.45,"k":"o","s":10},
{"d":"2024-11-13","a":36.22,"b":36.45,"k":"g","s":11},{"d":"2024-11-21","a":36.5,"b":36.9,"k":"g","s":11},{"d":"2024-11-28","a":36.8,"b":37.2,"k":"g","s":11},{"d":"2024-12-03","a":37.0,"b":37.4,"k":"g","s":11},
{"d":"2024-12-03","a":37.0,"b":37.4,"k":"o","s":12},{"d":"2024-12-11","a":37.0,"b":37.3,"k":"o","s":12},{"d":"2024-12-17","a":36.9,"b":37.1,"k":"o","s":12},
{"d":"2024-12-17","a":36.9,"b":37.08,"k":"p","s":13},{"d":"2024-12-31","a":36.65,"b":36.8,"k":"p","s":13},{"d":"2025-01-06","a":36.75,"b":36.85,"k":"p","s":13},
{"d":"2025-01-06","a":36.75,"b":36.85,"k":"o","s":14},{"d":"2025-01-08","a":36.8,"b":36.95,"k":"o","s":14},
{"d":"2025-01-08","a":36.8,"b":36.95,"k":"g","s":15},{"d":"2025-01-13","a":36.85,"b":37.1,"k":"g","s":15},{"d":"2025-01-15","a":36.95,"b":37.25,"k":"g","s":15},{"d":"2025-01-23","a":37.1,"b":37.5,"k":"g","s":15},{"d":"2025-01-24","a":37.1,"b":37.38,"k":"g","s":15},
{"d":"2025-01-24","a":37.1,"b":37.38,"k":"o","s":16},{"d":"2025-01-29","a":37.0,"b":37.12,"k":"o","s":16},
{"d":"2025-01-29","a":37.0,"b":37.12,"k":"p","s":17},{"d":"2025-01-31","a":36.8,"b":36.95,"k":"p","s":17},{"d":"2025-02-06","a":36.6,"b":36.8,"k":"p","s":17},{"d":"2025-02-13","a":36.4,"b":36.7,"k":"p","s":17},{"d":"2025-02-19","a":35.85,"b":36.3,"k":"p","s":17},{"d":"2025-02-24","a":35.25,"b":35.9,"k":"p","s":17},{"d":"2025-02-28","a":34.2,"b":35.25,"k":"p","s":17},{"d":"2025-03-06","a":33.2,"b":34.2,"k":"p","s":17},{"d":"2025-03-12","a":32.65,"b":33.4,"k":"p","s":17},{"d":"2025-03-18","a":32.3,"b":32.9,"k":"p","s":17},{"d":"2025-03-24","a":32.0,"b":32.5,"k":"p","s":17},{"d":"2025-03-28","a":31.3,"b":32.1,"k":"p","s":17},{"d":"2025-04-03","a":30.5,"b":31.4,"k":"p","s":17},{"d":"2025-04-09","a":29.6,"b":30.8,"k":"p","s":17},{"d":"2025-04-15","a":28.9,"b":30.4,"k":"p","s":17},{"d":"2025-04-17","a":28.7,"b":29.9,"k":"p","s":17},{"d":"2025-04-23","a":28.8,"b":29.65,"k":"p","s":17},
{"d":"2025-04-23","a":28.8,"b":29.65,"k":"o","s":18},{"d":"2025-05-02","a":29.45,"b":29.9,"k":"o","s":18},{"d":"2025-05-08","a":30.1,"b":30.3,"k":"o","s":18},
{"d":"2025-05-08","a":30.1,"b":30.3,"k":"g","s":19},{"d":"2025-05-15","a":30.3,"b":30.5,"k":"g","s":19},{"d":"2025-05-22","a":30.7,"b":31.15,"k":"g","s":19},{"d":"2025-05-27","a":30.9,"b":31.5,"k":"g","s":19},{"d":"2025-06-06","a":31.7,"b":32.75,"k":"g","s":19},{"d":"2025-06-16","a":32.65,"b":33.3,"k":"g","s":19},{"d":"2025-06-25","a":33.1,"b":33.85,"k":"g","s":19},{"d":"2025-07-04","a":33.8,"b":34.2,"k":"g","s":19},{"d":"2025-07-08","a":33.85,"b":34.25,"k":"g","s":19},
{"d":"2025-07-08","a":33.85,"b":34.25,"k":"o","s":20},{"d":"2025-07-11","a":33.9,"b":34.2,"k":"o","s":20},{"d":"2025-07-16","a":33.95,"b":34.25,"k":"o","s":20},
{"d":"2025-07-16","a":33.95,"b":34.25,"k":"g","s":21},{"d":"2025-07-23","a":34.1,"b":34.5,"k":"g","s":21},{"d":"2025-08-01","a":34.4,"b":34.7,"k":"g","s":21},{"d":"2025-08-11","a":34.6,"b":35.0,"k":"g","s":21},{"d":"2025-08-19","a":34.9,"b":35.25,"k":"g","s":21},{"d":"2025-08-21","a":35.05,"b":35.4,"k":"g","s":21},
{"d":"2025-08-21","a":35.05,"b":35.4,"k":"o","s":22},{"d":"2025-08-25","a":34.95,"b":35.2,"k":"o","s":22},{"d":"2025-08-28","a":34.8,"b":35.0,"k":"o","s":22},
{"d":"2025-08-28","a":34.8,"b":35.0,"k":"p","s":23},{"d":"2025-09-03","a":34.5,"b":34.8,"k":"p","s":23},{"d":"2025-09-09","a":34.3,"b":34.6,"k":"p","s":23},{"d":"2025-09-11","a":34.2,"b":34.45,"k":"p","s":23},
{"d":"2025-09-11","a":34.2,"b":34.45,"k":"o","s":24},{"d":"2025-09-17","a":34.05,"b":34.2,"k":"o","s":24},{"d":"2025-09-23","a":34.0,"b":34.15,"k":"o","s":24},
{"d":"2025-09-23","a":34.0,"b":34.15,"k":"p","s":25},{"d":"2025-10-02","a":33.85,"b":34.0,"k":"p","s":25},
{"d":"2025-10-02","a":33.85,"b":34.0,"k":"o","s":26},{"d":"2025-10-10","a":33.7,"b":33.9,"k":"o","s":26},
{"d":"2025-10-10","a":33.7,"b":33.9,"k":"g","s":27},{"d":"2025-10-23","a":33.8,"b":34.0,"k":"g","s":27},
{"d":"2025-10-23","a":33.8,"b":34.0,"k":"o","s":28},{"d":"2025-10-30","a":33.75,"b":34.0,"k":"o","s":28},
{"d":"2025-10-30","a":33.75,"b":34.0,"k":"p","s":29},{"d":"2025-11-04","a":33.3,"b":33.55,"k":"p","s":29},{"d":"2025-11-10","a":32.5,"b":33.1,"k":"p","s":29},{"d":"2025-11-14","a":31.8,"b":32.5,"k":"p","s":29},{"d":"2025-11-20","a":31.15,"b":32.0,"k":"p","s":29},{"d":"2025-11-26","a":30.8,"b":31.5,"k":"p","s":29},{"d":"2025-12-02","a":30.45,"b":31.05,"k":"p","s":29},{"d":"2025-12-08","a":30.2,"b":30.7,"k":"p","s":29},{"d":"2025-12-16","a":29.75,"b":30.25,"k":"p","s":29},
{"d":"2024-07-11","a":28.66,"b":31.39,"k":"G","s":30},{"d":"2024-08-08","a":29.61,"b":31.8,"k":"G","s":30},{"d":"2024-09-04","a":30.37,"b":32.18,"k":"G","s":30},{"d":"2024-10-02","a":31.32,"b":33.1,"k":"G","s":30},{"d":"2024-10-30","a":32.07,"b":33.78,"k":"G","s":30},{"d":"2024-11-27","a":32.83,"b":34.4,"k":"G","s":30},{"d":"2024-12-24","a":33.44,"b":34.98,"k":"G","s":30},{"d":"2025-01-24","a":33.95,"b":35.49,"k":"G","s":30},{"d":"2025-02-18","a":34.12,"b":35.73,"k":"G","s":30},{"d":"2025-02-19","a":34.2,"b":35.75,"k":"G","s":30},
{"d":"2025-02-19","a":34.2,"b":35.75,"k":"o","s":31},{"d":"2025-02-28","a":34.1,"b":35.25,"k":"o","s":31},{"d":"2025-03-11","a":34.0,"b":35.0,"k":"o","s":31},{"d":"2025-03-19","a":33.7,"b":34.7,"k":"o","s":31},{"d":"2025-03-28","a":33.5,"b":34.4,"k":"o","s":31},{"d":"2025-04-07","a":33.2,"b":33.54,"k":"o","s":31},{"d":"2025-04-16","a":33.0,"b":33.1,"k":"o","s":31},{"d":"2025-04-29","a":32.8,"b":32.82,"k":"o","s":31},{"d":"2025-05-05","a":32.72,"b":32.74,"k":"o","s":31},
{"d":"2025-05-05","a":32.72,"b":32.74,"k":"G","s":32},{"d":"2025-05-27","a":32.65,"b":32.72,"k":"G","s":32},{"d":"2025-06-19","a":32.8,"b":32.9,"k":"G","s":32},{"d":"2025-07-11","a":32.9,"b":33.2,"k":"G","s":32},{"d":"2025-08-04","a":33.1,"b":33.5,"k":"G","s":32},{"d":"2025-08-26","a":33.4,"b":33.8,"k":"G","s":32},{"d":"2025-09-01","a":33.5,"b":33.85,"k":"G","s":32},
{"d":"2025-09-01","a":33.5,"b":33.85,"k":"o","s":33},{"d":"2025-09-16","a":33.55,"b":33.85,"k":"o","s":33},
{"d":"2025-09-16","a":33.55,"b":33.85,"k":"G","s":34},{"d":"2025-10-02","a":33.6,"b":33.85,"k":"G","s":34},
{"d":"2025-10-02","a":33.6,"b":33.85,"k":"o","s":35},{"d":"2025-10-10","a":33.6,"b":33.82,"k":"o","s":35},
{"d":"2025-10-10","a":33.6,"b":33.82,"k":"G","s":36},{"d":"2025-10-24","a":33.65,"b":33.85,"k":"G","s":36},
{"d":"2025-10-24","a":33.65,"b":33.85,"k":"o","s":37},{"d":"2025-10-30","a":33.4,"b":33.7,"k":"o","s":37},{"d":"2025-11-18","a":33.0,"b":33.2,"k":"o","s":37},{"d":"2025-11-27","a":32.8,"b":33.05,"k":"o","s":37},
{"d":"2025-11-27","a":32.8,"b":33.05,"k":"r","s":38},{"d":"2025-12-03","a":32.65,"b":32.85,"k":"r","s":38},{"d":"2025-12-16","a":32.3,"b":32.65,"k":"r","s":38}
],
"vma":[
{"d":"2024-07-11","m":3.5},{"d":"2024-09-19","m":3.5},{"d":"2024-09-20","m":4.0},{"d":"2024-10-30","m":4.0},{"d":"2024-10-31","m":3.5},{"d":"2024-11-13","m":3.5},{"d":"2024-11-14","m":3.2},{"d":"2024-12-24","m":3.2},{"d":"2024-12-27","m":2.8},{"d":"2025-01-21","m":2.8},{"d":"2025-01-22","m":3.2},{"d":"2025-02-13","m":3.2},{"d":"2025-02-19","m":4.0},{"d":"2025-02-27","m":5.4},{"d":"2025-03-03","m":6.0},{"d":"2025-04-03","m":6.3},{"d":"2025-05-27","m":6.3},{"d":"2025-05-28","m":5.0},{"d":"2025-06-19","m":5.0},{"d":"2025-06-20","m":4.5},{"d":"2025-07-01","m":4.5},{"d":"2025-07-02","m":3.8},{"d":"2025-07-23","m":3.8},{"d":"2025-07-24","m":3.5},{"d":"2025-09-05","m":3.5},{"d":"2025-09-08","m":3.2},{"d":"2025-09-23","m":3.2},{"d":"2025-09-24","m":2.9},{"d":"2025-10-30","m":2.9},{"d":"2025-10-31","m":3.4},{"d":"2025-12-16","m":3.4}
]
},
"vconcat":[
{
"width":952,"height":455,
"title":{"text":"Goodman Group Ordinary/Units Stapled Securities (GMG) - Daily","anchor":"start","offset":-16,"dx":2,"fontSize":12,"fontWeight":"bold","font":"Liberation Sans","color":"#000000"},
"encoding":{"x":{"field":"d","type":"ordinal","scale":{"type":"band","paddingInner":0,"paddingOuter":0,"domain":{"unionWith":["2025-12-17","2025-12-18","2025-12-19","2025-12-22","2025-12-23","2025-12-24","2025-12-29","2025-12-30","2025-12-31","2026-01-02","2026-01-05"]}},
"axis":{"orient":"bottom","values":["2024-08-01","2024-09-02","2024-10-01","2024-11-01","2024-12-02","2025-01-02","2025-02-03","2025-03-03","2025-04-01","2025-05-01","2025-06-02","2025-07-01","2025-08-01","2025-09-01","2025-10-01","2025-11-03","2025-12-01"],
"labelExpr":"slice(datum.value,5,7)=='01' ? slice(datum.value,0,4) : ['Jan','Feb','Mar','Apr','May','Jun','Jul','Aug','Sep','Oct','Nov','Dec'][toNumber(slice(datum.value,5,7))-1]",
"bandPosition":0,"labelAlign":"left","labelDx":2,"labelPadding":-2,"labelAngle":0,"labelOverlap":false,"labelBound":false,"labelFlush":false,"tickSize":3}}},
"layer":[
{"data":{"name":"bands"},"transform":[{"filter":"datum.s >= 30"}],"mark":{"type":"area","opacity":1},
"encoding":{"y":{"field":"a","type":"quantitative","scale":{"domain":[24.73,40.27],"nice":false,"zero":false},
"axis":{"orient":"right","values":[25,26,27,28,29,30,31,32,33,34,35,36,37,38,39,40],"format":"d","tickCount":40,"labelAlign":"right","labelPadding":42,"tickSize":3,"labelOverlap":false}},
"y2":{"field":"b"},"color":{"field":"k","type":"nominal","scale":{"domain":["g","o","p","G","r"],"range":["#00e800","#ff6a1f","#ffb3b3","#3cb371","#ff6b6b"]},"legend":null},"detail":{"field":"s","type":"nominal"}}},
{"data":{"name":"bands"},"transform":[{"filter":"datum.s < 30"}],"mark":{"type":"area","opacity":1},
"encoding":{"y":{"field":"a","type":"quantitative","scale":{"domain":[24.73,40.27],"nice":false,"zero":false}},
"y2":{"field":"b"},"color":{"field":"k","type":"nominal","scale":{"domain":["g","o","p","G","r"],"range":["#00e800","#ff6a1f","#ffb3b3","#3cb371","#ff6b6b"]},"legend":null},"detail":{"field":"s","type":"nominal"}}},
{"data":{"name":"px"},"mark":{"type":"rule","strokeWidth":1},
"encoding":{"y":{"field":"l","type":"quantitative","scale":{"domain":[24.73,40.27],"nice":false,"zero":false}},"y2":{"field":"h"},
"color":{"condition":{"test":"datum.c < datum.o","value":"#000000"},"value":"#707070"}}},
{"data":{"name":"px"},"mark":{"type":"bar","width":{"band":0.75},"strokeWidth":0.8},
"encoding":{"y":{"field":"o","type":"quantitative","scale":{"domain":[24.73,40.27],"nice":false,"zero":false}},"y2":{"field":"c"},
"fill":{"condition":{"test":"datum.c < datum.o","value":"#000000"},"value":"#d0d0d0"},
"stroke":{"condition":{"test":"datum.c < datum.o","value":"#000000"},"value":"#707070"}}}
]
},
{
"width":952,"height":90,
"title":{"text":"Volume","anchor":"start","offset":-16,"dx":2,"fontSize":12,"fontWeight":"bold","font":"Liberation Sans","color":"#8282c4"},
"encoding":{"x":{"field":"d","type":"ordinal","scale":{"type":"band","paddingInner":0,"paddingOuter":0,"domain":{"unionWith":["2025-12-17","2025-12-18","2025-12-19","2025-12-22","2025-12-23","2025-12-24","2025-12-29","2025-12-30","2025-12-31","2026-01-02","2026-01-05"]}},
"axis":{"orient":"top","labels":false,"ticks":false,"domain":true}}},
"layer":[
{"data":{"name":"px"},"mark":{"type":"bar","width":{"band":0.55},"color":"#7f7fcc"},
"encoding":{"y":{"field":"v","type":"quantitative","scale":{"domain":[0,50.5],"nice":false},
"axis":{"orient":"right","values":[10,20,30,40],"tickCount":20,"labelExpr":"datum.value + 'M'","labelAlign":"right","labelPadding":42,"tickSize":3,"labelOverlap":false}}}},
{"data":{"name":"vma"},"mark":{"type":"line","color":"#ff0000","strokeWidth":1.5},
"encoding":{"y":{"field":"m","type":"quantitative","scale":{"domain":[0,50.5],"nice":false}}}}
]
}
]
}
